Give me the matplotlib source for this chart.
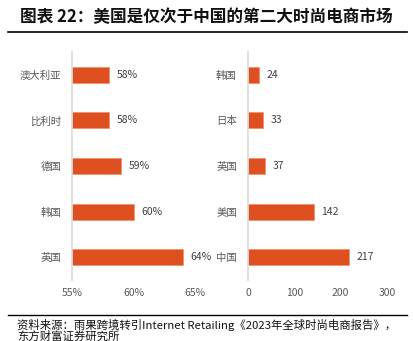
import matplotlib.pyplot as plt
from matplotlib.lines import Line2D

plt.rcParams['font.family'] = ['Noto Sans CJK SC', 'DejaVu Sans']

# left panel: share of fashion in e-commerce (%)
left_countries = ['澳大利亚', '比利时', '德国', '韩国', '英国']
left_values = [58, 58, 59, 60, 64]
left_ticks = [55, 60, 65]

# right panel: fashion e-commerce market size
right_countries = ['韩国', '日本', '英国', '美国', '中国']
right_values = [24, 33, 37, 142, 217]
right_ticks = [0, 100, 200, 300]

title = '图表 22：美国是仅次于中国的第二大时尚电商市场'
source_1 = '资料来源：雨果跨境转引Internet Retailing《2023年全球时尚电商报告》，'
source_2 = '东方财富证券研究所'

bar_color = '#DF5020'
txt_color = '#404040'
tick_color = '#595959'

fig = plt.figure(figsize=(4.14, 3.41), dpi=100)


def draw_panel(rect, cats, vals, ticks, fmt):
    ax = fig.add_axes(rect)
    y = list(range(len(cats)))
    base = ticks[0]
    ax.barh(y, [v - base for v in vals], left=base, height=0.35, color=bar_color,
            edgecolor='#F08860', linewidth=0.4)
    ax.set_ylim(len(cats) - 0.5, -0.5)
    ax.set_xlim(ticks[0], ticks[-1])
    ax.set_yticks(y)
    ax.set_yticklabels(cats, fontsize=7.5, color=tick_color)
    ax.set_xticks(ticks)
    ax.set_xticklabels([fmt(t) for t in ticks], fontsize=7.5, color=tick_color)
    ax.tick_params(axis='y', length=0, pad=8)
    ax.tick_params(axis='x', length=0, pad=6)
    for s in ['top', 'right', 'bottom']:
        ax.spines[s].set_visible(False)
    ax.spines['left'].set_color('#D9D9D9')
    ax.spines['left'].set_linewidth(1.2)
    for yi, v in zip(y, vals):
        ax.annotate(fmt(v), (v, yi), xytext=(5.5, 0), textcoords='offset points',
                    va='center', ha='left', fontsize=7.5, color=txt_color)
    return ax


draw_panel([0.174, 0.179, 0.297, 0.669], left_countries, left_values,
           left_ticks, lambda t: f'{t}%')
draw_panel([0.599, 0.179, 0.336, 0.669], right_countries, right_values,
           right_ticks, lambda t: f'{t}')

fig.text(20 / 414, 1 - 17 / 341, title, fontsize=12, fontweight='bold',
         va='center', ha='left', color='#111111')
fig.add_artist(Line2D([8 / 414, 407 / 414], [1 - 32 / 341] * 2, color='black', lw=1.2))
fig.add_artist(Line2D([8 / 414, 407 / 414], [1 - 315 / 341] * 2, color='black', lw=1.0))
fig.text(17 / 414, 1 - 325 / 341, source_1, fontsize=8.2, va='center', ha='left', color='#111111')
fig.text(17 / 414, 1 - 336 / 341, source_2, fontsize=8.2, va='center', ha='left', color='#111111')

fig.savefig('out.png', dpi=100)
